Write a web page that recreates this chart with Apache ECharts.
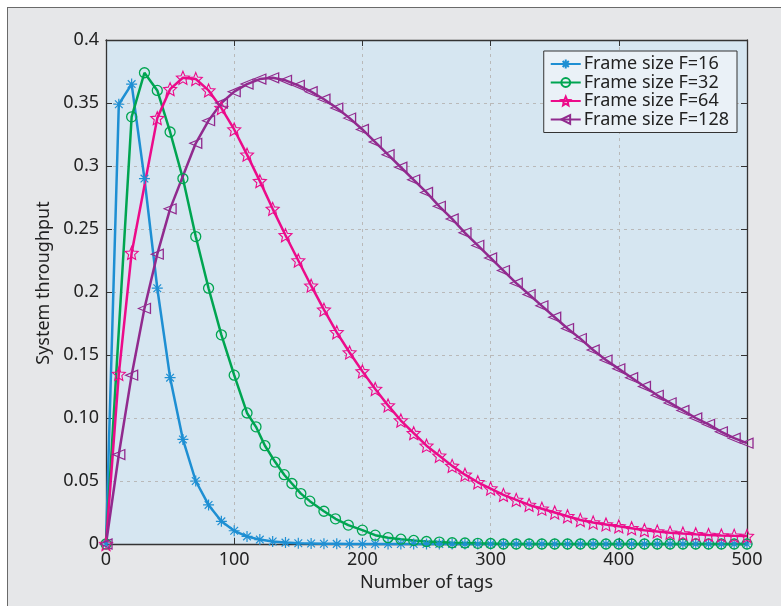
<!DOCTYPE html>
<html>
<head>
<meta charset="utf-8">
<script src="https://cdn.jsdelivr.net/npm/echarts@6/dist/echarts.min.js"></script>
<style>
  body { margin: 0; background: #ffffff; }
  #frame {
    position: absolute; left: 7px; top: 7px; width: 820px; height: 700px;
    background: #e6e7e9; border-left: 1px solid #6a6a6a; border-top: 1px solid #6a6a6a;
  }
  #chart { position: absolute; left: 0; top: 0; width: 781px; height: 606px; }
</style>
</head>
<body>
<div id="frame"></div>
<div id="chart"></div>
<script>
// tick labels as printed on the y axis
const yTickLabels = ['0', '0.05', '0.10', '0.15', '0.2', '0.25', '0.3', '0.35', '0.4'];
const legendNames = ['Frame size F=16', 'Frame size F=32', 'Frame size F=64', 'Frame size F=128'];

// F=16
const tags16 = [0, 10, 20, 30, 40, 50, 60, 70, 80, 90, 100, 110, 120, 130, 140, 150, 160, 170, 180,
  190, 200, 210, 220, 230, 240, 250, 260, 270, 280, 290, 300, 310, 320, 330, 340, 350, 360, 370, 380,
  390, 400, 410, 420, 430, 440, 450, 460, 470, 480, 490, 500];
const thr16 = [0, 0.349, 0.365, 0.290, 0.203, 0.132, 0.083, 0.050, 0.031, 0.018, 0.0105, 0.006, 0.0035,
  0.002, 0.0011, 0.0006, 0.0004, 0.0002, 0.0001,
  0, 0, 0, 0, 0, 0, 0, 0, 0, 0, 0, 0, 0, 0, 0, 0, 0, 0, 0, 0, 0, 0, 0, 0, 0, 0, 0, 0, 0, 0, 0, 0, 0];

// F=32
const tags32 = [0, 20, 30, 40, 50, 60, 70, 80, 90, 100, 110, 117, 124, 132, 139, 145, 152, 159, 170, 179,
  189, 200, 210, 220, 230, 240, 250, 260, 270, 280, 290, 300, 310, 320, 330, 340, 350, 360, 370, 380,
  390, 400, 410, 420, 430, 440, 450, 460, 470, 480, 490, 500];
const thr32 = [0, 0.339, 0.374, 0.360, 0.327, 0.290, 0.244, 0.203, 0.166, 0.134, 0.104, 0.093, 0.078,
  0.065, 0.055, 0.048, 0.040, 0.034, 0.026, 0.020, 0.015, 0.011, 0.007, 0.005, 0.0038, 0.0028, 0.002,
  0.0015, 0.001, 0.0008, 0.0005, 0.0004,
  0, 0, 0, 0, 0, 0, 0, 0, 0, 0, 0, 0, 0, 0, 0, 0, 0, 0, 0, 0];

// F=64
const tags64 = [0, 10, 20, 40, 50, 60, 70, 80, 90, 100, 110, 120, 130, 140, 150, 160, 170, 180, 190, 200,
  210, 220, 230, 240, 250, 260, 270, 280, 290, 300, 310, 320, 330, 340, 350, 360, 370, 380, 390, 400,
  410, 420, 430, 440, 450, 460, 470, 480, 490, 500];
const thr64 = [0, 0.135, 0.231, 0.338, 0.361, 0.370, 0.369, 0.360, 0.346, 0.329, 0.309, 0.288, 0.266,
  0.245, 0.225, 0.205, 0.186, 0.168, 0.152, 0.137, 0.123, 0.110, 0.098, 0.088, 0.078, 0.070, 0.062,
  0.055, 0.049, 0.044, 0.039, 0.035, 0.031, 0.028, 0.025, 0.022, 0.019, 0.017, 0.0155, 0.014, 0.0125,
  0.011, 0.010, 0.009, 0.0083, 0.0077, 0.0072, 0.0068, 0.0065, 0.0063];

// F=128
const tags128 = [0, 10, 20, 30, 40, 50, 70, 80, 90, 100, 110, 120, 130, 140, 150, 160, 170, 180, 190, 200,
  210, 220, 230, 240, 250, 260, 270, 280, 290, 300, 310, 320, 330, 340, 350, 360, 370, 380, 390, 400,
  410, 420, 430, 440, 450, 460, 470, 480, 490, 500];
const thr128 = [0, 0.071, 0.134, 0.187, 0.230, 0.266, 0.318, 0.336, 0.350, 0.359, 0.365, 0.369, 0.370,
  0.368, 0.364, 0.359, 0.353, 0.346, 0.338, 0.329, 0.319, 0.309, 0.299, 0.289, 0.279, 0.268, 0.258,
  0.247, 0.237, 0.227, 0.217, 0.207, 0.198, 0.189, 0.180, 0.171, 0.163, 0.154, 0.146, 0.139, 0.132,
  0.125, 0.118, 0.112, 0.106, 0.100, 0.095, 0.089, 0.084, 0.080];

const colors = ['#1e8fd3', '#00a551', '#ec0b8a', '#912a8e'];
const symbols = [
  'path://M5 0 L5 10 M0 5 L10 5 M1.5 1.5 L8.5 8.5 M1.5 8.5 L8.5 1.5',
  'circle',
  'path://M5 0 L6.35 3.15 L9.76 3.46 L7.2 5.7 L7.94 9.05 L5 7.35 L2.06 9.05 L2.8 5.7 L0.24 3.46 L3.65 3.15 Z',
  'path://M0 5 L10 0 L10 10 Z'
];
const symbolSizes = [11, 10, 13, [12, 10]];
const borderWidths = [1.2, 1.3, 1.1, 1.2];
const allTags = [tags16, tags32, tags64, tags128];
const allThr = [thr16, thr32, thr64, thr128];

const font = '"Noto Sans", "Open Sans", sans-serif';

const series = legendNames.map((name, i) => ({
  name: name,
  type: 'line',
  data: allTags[i].map((t, k) => [t, allThr[i][k]]),
  symbol: symbols[i],
  symbolSize: symbolSizes[i],
  showAllSymbol: true,
  lineStyle: { color: colors[i], width: 2.5 },
  itemStyle: { color: 'rgba(0,0,0,0)', borderColor: colors[i], borderWidth: borderWidths[i] },
  emphasis: { disabled: true },
  clip: false
}));

const chart = echarts.init(document.getElementById('chart'));
chart.setOption({
  animation: false,
  textStyle: { fontFamily: font },
  grid: {
    left: 106, right: 34, top: 40, bottom: 62,
    show: true, backgroundColor: '#d6e6f1', borderWidth: 0
  },
  legend: {
    orient: 'vertical',
    right: 44, top: 51,
    backgroundColor: '#eaf1f7',
    borderColor: '#333', borderWidth: 1, borderRadius: 0,
    padding: [4, 8, 4, 6],
    itemWidth: 30, itemHeight: 11, itemGap: 0.5,
    textStyle: { fontSize: 18, color: '#222', fontFamily: font, padding: [0, 0, 0, -2] },
    data: legendNames
  },
  xAxis: [{
    type: 'value', min: 0, max: 500, interval: 100,
    name: 'Number of tags', nameLocation: 'middle', nameGap: 30,
    nameTextStyle: { fontSize: 18, color: '#222' },
    axisLine: { show: true, onZero: false, lineStyle: { color: '#333', width: 1.3 } },
    axisTick: { show: true, inside: true, length: 6, lineStyle: { color: '#333' } },
    axisLabel: { fontSize: 18, color: '#222', margin: 7 },
    splitLine: { show: true, lineStyle: { color: '#b9b9b9', type: [3, 4], width: 1 } }
  }, {
    type: 'value', min: 0, max: 500, interval: 100, position: 'top',
    axisLine: { show: true, onZero: false, lineStyle: { color: '#333', width: 1.3 } },
    axisTick: { show: true, inside: true, length: 6, lineStyle: { color: '#333' } },
    axisLabel: { show: false },
    splitLine: { show: false }
  }],
  yAxis: [{
    type: 'value', min: 0, max: 0.4, interval: 0.05,
    name: 'System throughput', nameLocation: 'middle', nameGap: 50,
    nameTextStyle: { fontSize: 18, color: '#222', padding: [0, 0, 0, 18] },
    axisLine: { show: true, onZero: false, lineStyle: { color: '#333', width: 1.3 } },
    axisTick: { show: true, inside: true, length: 6, lineStyle: { color: '#333' } },
    axisLabel: {
      fontSize: 18, color: '#222', margin: 7,
      formatter: v => yTickLabels[Math.round(v / 0.05)]
    },
    splitLine: { show: true, lineStyle: { color: '#b9b9b9', type: [3, 4], width: 1 } }
  }, {
    type: 'value', min: 0, max: 0.4, interval: 0.05, position: 'right',
    axisLine: { show: true, onZero: false, lineStyle: { color: '#333', width: 1.3 } },
    axisTick: { show: true, inside: true, length: 6, lineStyle: { color: '#333' } },
    axisLabel: { show: false },
    splitLine: { show: false }
  }],
  series: series
});
</script>
</body>
</html>
